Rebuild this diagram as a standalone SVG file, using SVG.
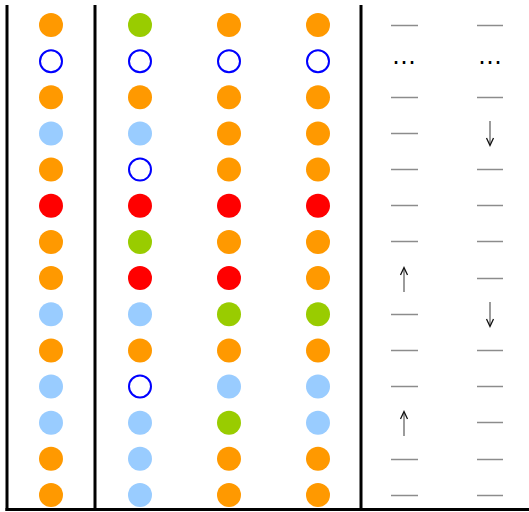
<svg xmlns="http://www.w3.org/2000/svg" width="529" height="512" viewBox="0 0 529 512">
<style>
.o{fill:#ff9900}.g{fill:#99cc00}.b{fill:#99ccff}.r{fill:#ff0000}.h{fill:none;stroke:#0000ff;stroke-width:2}
.d{stroke:#8c8c8c;stroke-width:1.5}
.sh{stroke:#666;stroke-width:1.3}
.hd{fill:none;stroke:#111;stroke-width:1.3}
.frame{stroke:#000;stroke-width:3;fill:none}
.dots{font-family:"DejaVu Sans",sans-serif;font-size:24px;fill:#000;text-anchor:middle}
</style>
<rect width="529" height="512" fill="#fff"/>
<g id="frame">
<line class="frame" x1="7" y1="5" x2="7" y2="511"/>
<line class="frame" x1="95" y1="5" x2="95" y2="511"/>
<line class="frame" x1="361" y1="5" x2="361" y2="511"/>
<line class="frame" x1="5.5" y1="509.5" x2="529" y2="509.5"/>
</g>
<g id="col1">
<circle class="o" cx="51" cy="25" r="12"/>
<circle class="h" cx="51" cy="61.2" r="11"/>
<circle class="o" cx="51" cy="97.3" r="12"/>
<circle class="b" cx="51" cy="133.5" r="12"/>
<circle class="o" cx="51" cy="169.6" r="12"/>
<circle class="r" cx="51" cy="205.8" r="12"/>
<circle class="o" cx="51" cy="241.9" r="12"/>
<circle class="o" cx="51" cy="278.1" r="12"/>
<circle class="b" cx="51" cy="314.2" r="12"/>
<circle class="o" cx="51" cy="350.4" r="12"/>
<circle class="b" cx="51" cy="386.5" r="12"/>
<circle class="b" cx="51" cy="422.7" r="12"/>
<circle class="o" cx="51" cy="458.8" r="12"/>
<circle class="o" cx="51" cy="495" r="12"/>
</g>
<g id="col2">
<circle class="g" cx="140" cy="25" r="12"/>
<circle class="h" cx="140" cy="61.2" r="11"/>
<circle class="o" cx="140" cy="97.3" r="12"/>
<circle class="b" cx="140" cy="133.5" r="12"/>
<circle class="h" cx="140" cy="169.6" r="11"/>
<circle class="r" cx="140" cy="205.8" r="12"/>
<circle class="g" cx="140" cy="241.9" r="12"/>
<circle class="r" cx="140" cy="278.1" r="12"/>
<circle class="b" cx="140" cy="314.2" r="12"/>
<circle class="o" cx="140" cy="350.4" r="12"/>
<circle class="h" cx="140" cy="386.5" r="11"/>
<circle class="b" cx="140" cy="422.7" r="12"/>
<circle class="b" cx="140" cy="458.8" r="12"/>
<circle class="b" cx="140" cy="495" r="12"/>
</g>
<g id="col3">
<circle class="o" cx="229" cy="25" r="12"/>
<circle class="h" cx="229" cy="61.2" r="11"/>
<circle class="o" cx="229" cy="97.3" r="12"/>
<circle class="o" cx="229" cy="133.5" r="12"/>
<circle class="o" cx="229" cy="169.6" r="12"/>
<circle class="r" cx="229" cy="205.8" r="12"/>
<circle class="o" cx="229" cy="241.9" r="12"/>
<circle class="r" cx="229" cy="278.1" r="12"/>
<circle class="g" cx="229" cy="314.2" r="12"/>
<circle class="o" cx="229" cy="350.4" r="12"/>
<circle class="b" cx="229" cy="386.5" r="12"/>
<circle class="g" cx="229" cy="422.7" r="12"/>
<circle class="o" cx="229" cy="458.8" r="12"/>
<circle class="o" cx="229" cy="495" r="12"/>
</g>
<g id="col4">
<circle class="o" cx="318" cy="25" r="12"/>
<circle class="h" cx="318" cy="61.2" r="11"/>
<circle class="o" cx="318" cy="97.3" r="12"/>
<circle class="o" cx="318" cy="133.5" r="12"/>
<circle class="o" cx="318" cy="169.6" r="12"/>
<circle class="r" cx="318" cy="205.8" r="12"/>
<circle class="o" cx="318" cy="241.9" r="12"/>
<circle class="o" cx="318" cy="278.1" r="12"/>
<circle class="g" cx="318" cy="314.2" r="12"/>
<circle class="o" cx="318" cy="350.4" r="12"/>
<circle class="b" cx="318" cy="386.5" r="12"/>
<circle class="b" cx="318" cy="422.7" r="12"/>
<circle class="o" cx="318" cy="458.8" r="12"/>
<circle class="o" cx="318" cy="495" r="12"/>
</g>
<g id="col5">
<line class="d" x1="391" y1="25.5" x2="418" y2="25.5"/>
<text class="dots" x="404" y="70">⋯</text>
<line class="d" x1="391" y1="97.5" x2="418" y2="97.5"/>
<line class="d" x1="391" y1="133.5" x2="418" y2="133.5"/>
<line class="d" x1="391" y1="169.5" x2="418" y2="169.5"/>
<line class="d" x1="391" y1="205.5" x2="418" y2="205.5"/>
<line class="d" x1="391" y1="241.5" x2="418" y2="241.5"/>
<line class="sh" x1="404" y1="292" x2="404" y2="268"/>
<path class="hd" d="M400.5,275 L404,267.5 L407.5,275"/>
<line class="d" x1="391" y1="314.5" x2="418" y2="314.5"/>
<line class="d" x1="391" y1="350.5" x2="418" y2="350.5"/>
<line class="d" x1="391" y1="386.5" x2="418" y2="386.5"/>
<line class="sh" x1="404" y1="436" x2="404" y2="412"/>
<path class="hd" d="M400.5,419 L404,411.5 L407.5,419"/>
<line class="d" x1="391" y1="459.5" x2="418" y2="459.5"/>
<line class="d" x1="391" y1="495.5" x2="418" y2="495.5"/>
</g>
<g id="col6">
<line class="d" x1="477" y1="25.5" x2="503" y2="25.5"/>
<text class="dots" x="490" y="70">⋯</text>
<line class="d" x1="477" y1="97.5" x2="503" y2="97.5"/>
<line class="sh" x1="490" y1="121" x2="490" y2="145"/>
<path class="hd" d="M486.5,138 L490,145.5 L493.5,138"/>
<line class="d" x1="477" y1="169.5" x2="503" y2="169.5"/>
<line class="d" x1="477" y1="205.5" x2="503" y2="205.5"/>
<line class="d" x1="477" y1="241.5" x2="503" y2="241.5"/>
<line class="d" x1="477" y1="278.5" x2="503" y2="278.5"/>
<line class="sh" x1="490" y1="302" x2="490" y2="326"/>
<path class="hd" d="M486.5,319 L490,326.5 L493.5,319"/>
<line class="d" x1="477" y1="350.5" x2="503" y2="350.5"/>
<line class="d" x1="477" y1="386.5" x2="503" y2="386.5"/>
<line class="d" x1="477" y1="422.5" x2="503" y2="422.5"/>
<line class="d" x1="477" y1="459.5" x2="503" y2="459.5"/>
<line class="d" x1="477" y1="495.5" x2="503" y2="495.5"/>
</g>
</svg>
